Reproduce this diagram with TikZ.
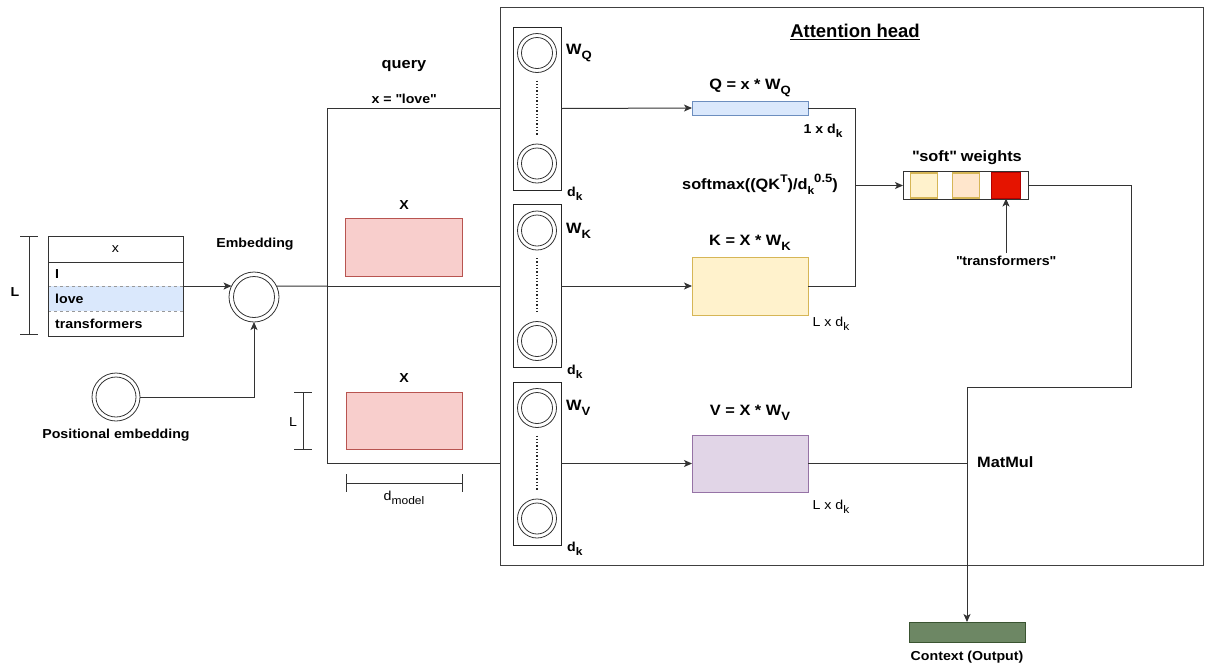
\documentclass[tikz,border=0pt]{standalone}
\usepackage{fontspec}
\setmainfont{Liberation Sans}[FakeStretch=1.09]
\newfontfamily\headfont{Liberation Sans}
\usetikzlibrary{arrows.meta}

\definecolor{qfill}{HTML}{DAE8FC}\definecolor{qline}{HTML}{6C8EBF}
\definecolor{kfill}{HTML}{FFF2CC}\definecolor{kline}{HTML}{D6B656}
\definecolor{vfill}{HTML}{E1D5E7}\definecolor{vline}{HTML}{9673A6}
\definecolor{xfill}{HTML}{F8CECC}\definecolor{xline}{HTML}{B85450}
\definecolor{ofill}{HTML}{FFE6CC}\definecolor{oline}{HTML}{D79B00}
\definecolor{rfill}{HTML}{E51400}\definecolor{rline}{HTML}{B20000}
\definecolor{cfill}{HTML}{6D8764}\definecolor{cline}{HTML}{3A5431}

% lowered / raised small text for indices
\newcommand\lowtxt[2]{\raisebox{-0.32em}{\fontsize{#1}{#1}\selectfont #2}}
\newcommand\hightxt[2]{\raisebox{0.5em}{\fontsize{#1}{#1}\selectfont #2}}
\newcommand\qt{\textquotedbl}

\tikzset{
  lbl/.style={inner sep=0pt, font=\fontsize{13}{15}\selectfont\bfseries},
  biglbl/.style={inner sep=0pt, font=\fontsize{15}{17}\selectfont\bfseries},
  plainlbl/.style={inner sep=0pt, font=\fontsize{13}{15}\selectfont},
  box/.style={draw, rectangle, inner sep=0pt, outer sep=0pt},
  ring/.style 2 args={circle, draw=black!80, line width=0.8pt, inner sep=0pt,
    outer sep=0pt, minimum size=#1,
    path picture={\draw[black!80, line width=0.8pt]
      (path picture bounding box.center) circle[radius=#2];}},
  wire/.style={line width=1pt, draw=black!80},
  arr/.style={wire, -{Stealth[length=8pt,width=7pt,inset=2pt]}},
  dim/.style={line width=1pt, draw=black!80},
}

\begin{document}
\begin{tikzpicture}[x=1pt, y=-1pt]
\useasboundingbox (0,0) rectangle (1206,665);

% ---------------- attention head container ----------------
\node[box, draw=black!75, line width=1pt, minimum width=703, minimum height=558,
  anchor=north west] (att) at (500,7) {};
\node[inner sep=0pt, font=\headfont\fontsize{18.5}{20}\selectfont\bfseries]
  (title) at (855,32) {\underline{Attention head}};

% ---------------- token table ----------------
\node[rectangle, fill=qfill, inner sep=0pt, minimum width=135, minimum height=25,
  anchor=north west] (rlove) at (48,286) {};
\draw[dashed, black!40, line width=0.8pt] (rlove.north west) -- (rlove.north east);
\draw[dashed, black!40, line width=0.8pt] (rlove.south west) -- (rlove.south east);
\node[box, draw=black!80, line width=1pt, minimum width=135, minimum height=100,
  anchor=north west] (tab) at (48,236) {};
\draw[black!80, line width=1pt] (48,262) -- (183,262);
\node[plainlbl] (hx) at (115.5,249) {x};
\node[lbl, anchor=west] (tI) at (55,274) {I};
\node[lbl, anchor=west] (tlove) at (55,299) {love};
\node[lbl, anchor=west] (ttr) at (55,324) {transformers};

% sequence length marker
\draw[dim] (29,236) -- (29,334) (20,236) -- (38,236) (20,334) -- (38,334);
\node[lbl] (lenL) at (15,292) {L};

% ---------------- embeddings ----------------
\node[ring={50}{20.5}] (emb) at (254,297) {};
\node[lbl] (embl) at (255,244) {Embedding};
\node[ring={48}{20}] (pos) at (116,397) {};
\node[lbl] (posl) at (116,435) {Positional embedding};

\draw[arr] (tab.east |- emb.154) -- (emb.154);
\draw[arr] (pos.east) -| (emb.south);

% fork of the embedded sequence
\coordinate (fork) at (327,286);
\draw[wire] (emb.26) -- (fork);

% ---------------- inputs X ----------------
\node[lbl] (qry) at (404,66) {\fontsize{15}{17}\selectfont query};
\node[lbl] (xq) at (404,99) {x = \qt love\qt};

\node[box, fill=xfill, draw=xline, line width=0.8pt, minimum width=117,
  minimum height=58] (xu) at (404,247) {};
\node[lbl] (xul) at (404,205) {X};
\node[box, fill=xfill, draw=xline, line width=0.8pt, minimum width=116,
  minimum height=57] (xd) at (404,420.5) {};
\node[lbl] (xdl) at (404,378) {X};

\draw[dim] (303,392) -- (303,449) (294,392) -- (312,392) (294,449) -- (312,449);
\node[plainlbl] (lenL2) at (293,422) {L};
\draw[dim] (346,483) -- (462,483) (346,474) -- (346,492) (462,474) -- (462,492);
\node[plainlbl] (dmod) at (404,498) {d\lowtxt{11}{model}};

% ---------------- projection matrices ----------------
\foreach \nm/\cy/\sb in {wq/108.5/Q, wk/286/K, wv/463.5/V}{
  \node[box, draw=black!85, line width=1pt, minimum width=48, minimum height=163]
    (\nm) at (537,\cy) {};
  \node[ring={39}{15.5}] (\nm a) at (537,\cy-55.5) {};
  \node[ring={39}{15.5}] (\nm b) at (537,\cy+55) {};
  \draw[black!85, line width=1.3pt, dotted] (537,\cy-28) -- (537,\cy+28);
  \node[inner sep=0pt, anchor=west, font=\fontsize{15}{17}\selectfont\bfseries]
    (\nm l) at (566,\cy-55.5) {W\lowtxt{12}{\sb}};
  \node[lbl, anchor=west] (\nm d) at (567,\cy+85.5) {d\lowtxt{11}{k}};
}

\draw[wire] (fork) |- (att.west |- wq.center);
\draw[wire] (fork) -- (att.west |- wk.center);
\draw[wire] (fork) |- (att.west |- wv.center);

% ---------------- Q, K, V ----------------
\node[box, fill=qfill, draw=qline, line width=0.8pt, minimum width=116,
  minimum height=14] (q) at (750,108) {};
\node[biglbl] (ql) at (750,88) {Q = x * W\lowtxt{12}{Q}};
\node[lbl] (qd) at (823,131) {1 x d\lowtxt{11}{k}};

\node[box, fill=kfill, draw=kline, line width=0.8pt, minimum width=116,
  minimum height=58] (k) at (750,286) {};
\node[biglbl] (kl) at (750,242.5) {K = X * W\lowtxt{12}{K}};
\node[plainlbl] (kd) at (831,324) {L x d\lowtxt{11}{k}};

\node[box, fill=vfill, draw=vline, line width=0.8pt, minimum width=116,
  minimum height=57] (v) at (750,463.5) {};
\node[biglbl] (vl) at (750,413) {V = X * W\lowtxt{12}{V}};
\node[plainlbl] (vd) at (831,507) {L x d\lowtxt{11}{k}};

\draw[arr] (wq.east) -- (q.west);
\draw[arr] (wk.east) -- (k.west);
\draw[arr] (wv.east) -- (v.west);

% ---------------- scores and soft weights ----------------
\coordinate (qk) at (855,185.5);
\draw[wire] (q.east) -| (qk) |- (k.east);
\node[biglbl] (smx) at (760,184)
  {softmax((QK\hightxt{11}{T})/d\lowtxt{11}{k}\hightxt{12}{0.5})};

\node[box, fill=white, draw=black!80, line width=1pt, minimum width=125,
  minimum height=28.5] (sw) at (965.5,185.5) {};
\node[box, fill=kfill, draw=kline, line width=1.6pt, minimum width=27,
  minimum height=25] (c1) at (924,185.5) {};
\node[box, fill=ofill, draw=kline, line width=1.6pt, minimum width=27,
  minimum height=25] (c2) at (966,185.5) {};
\node[box, fill=rfill, draw=rline, line width=1.2pt, minimum width=29,
  minimum height=26] (c3) at (1006,185.5) {};
\node[biglbl] (swl) at (967,157.5) {\qt soft\qt{} weights};
\draw[arr] (qk) -- (sw.west);

\node[lbl, inner sep=3pt] (trl) at (1006,261) {\qt transformers\qt};
\draw[arr] (trl.north) -- (c3.south);

% ---------------- output ----------------
\node[box, fill=cfill, draw=cline, line width=0.8pt, minimum width=116,
  minimum height=20] (ctx) at (967,632) {};
\node[lbl] (ctxl) at (967,657) {Context (Output)};

\coordinate (turn) at (1131,387);
\draw[arr] (sw.east) -| (turn) -| (ctx.north);
\draw[wire] (v.east) -- (ctx.north |- v.east);
\node[biglbl, anchor=west] (mm) at (977,462) {MatMul};

\end{tikzpicture}
\end{document}
